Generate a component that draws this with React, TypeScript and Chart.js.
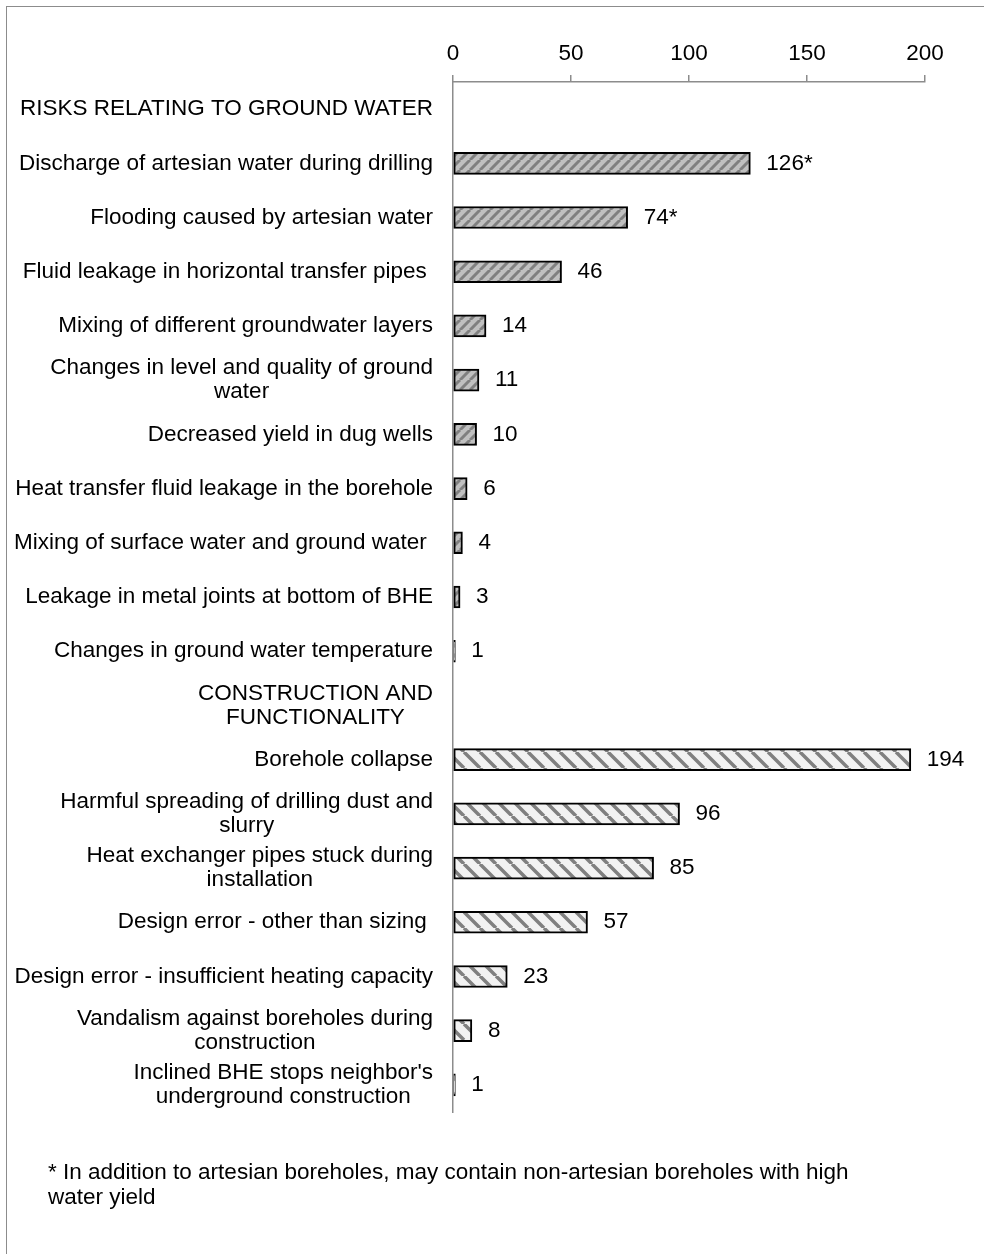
import React, { useEffect, useRef } from "react";
import { Chart, registerables } from "chart.js";
Chart.register(...registerables);

const categories: string[][] = [
  ["RISKS RELATING TO GROUND WATER"],
  ["Discharge of artesian water during drilling"],
  ["Flooding caused by artesian water"],
  ["Fluid leakage in horizontal transfer pipes "],
  ["Mixing of different groundwater layers"],
  ["Changes in level and quality of ground", "water"],
  ["Decreased yield in dug wells"],
  ["Heat transfer fluid leakage in the borehole"],
  ["Mixing of surface water and ground water "],
  ["Leakage in metal joints at bottom of BHE"],
  ["Changes in ground water temperature"],
  ["CONSTRUCTION AND", "FUNCTIONALITY"],
  ["Borehole collapse"],
  ["Harmful spreading of drilling dust and", "slurry"],
  ["Heat exchanger pipes stuck during", "installation"],
  ["Design error - other than sizing "],
  ["Design error - insufficient heating capacity"],
  ["Vandalism against boreholes during", "construction"],
  ["Inclined BHE stops neighbor's", "underground construction"],
];

const values: (number | null)[] = [
  null, 126, 74, 46, 14, 11, 10, 6, 4, 3, 1,
  null, 194, 96, 85, 57, 23, 8, 1,
];

const valueSuffixes: string[] = [
  "", "*", "*", "", "", "", "", "", "", "", "",
  "", "", "", "", "", "", "", "",
];

// 0 = ground water risks, 1 = construction and functionality
const groups: number[] = [0, 0, 0, 0, 0, 0, 0, 0, 0, 0, 0, 1, 1, 1, 1, 1, 1, 1, 1];

const xTicks: number[] = [0, 50, 100, 150, 200];

const footnoteLines: string[] = [
  "* In addition to artesian boreholes, may contain non-artesian boreholes with high",
  "water yield",
];

const FONT = "'Liberation Sans', Arial, Helvetica, sans-serif";
const FS = 22.5;

function makeStripe(bg: string, fg: string, size: number, width: number, up: boolean) {
  const c = document.createElement("canvas");
  c.width = size;
  c.height = size;
  const g = c.getContext("2d")!;
  g.fillStyle = bg;
  g.fillRect(0, 0, size, size);
  g.strokeStyle = fg;
  g.lineWidth = width;
  g.beginPath();
  for (const o of [-size, 0, size]) {
    if (up) {
      g.moveTo(o, size);
      g.lineTo(o + size, 0);
    } else {
      g.moveTo(o, 0);
      g.lineTo(o + size, size);
    }
  }
  g.stroke();
  return g.createPattern(c, "repeat")!;
}

const labelPlugin = {
  id: "customLabels",
  afterDraw(chart: any) {
    const ctx = chart.ctx as CanvasRenderingContext2D;
    const y = chart.scales.y;
    const x = chart.scales.x;
    ctx.save();
    ctx.font = `${FS}px ${FONT}`;
    ctx.fillStyle = "#000";
    ctx.textBaseline = "middle";
    const rightEdge = x.left - 20;
    const lineH = 24;
    (chart.data.labels as string[][]).forEach((lines, i) => {
      const cy = y.getPixelForValue(i);
      const maxW = Math.max(...lines.map((l) => ctx.measureText(l).width));
      const cx = rightEdge - maxW / 2;
      lines.forEach((l, k) => {
        const ly = cy + (k - (lines.length - 1) / 2) * lineH;
        const w = ctx.measureText(l).width;
        if (lines.length === 1) {
          ctx.textAlign = "right";
          ctx.fillText(l, rightEdge, ly);
        } else {
          ctx.textAlign = "left";
          ctx.fillText(l, cx - w / 2, ly);
        }
      });
    });
    // value labels
    ctx.textAlign = "left";
    const ds = chart.data.datasets[0];
    (ds.data as (number | null)[]).forEach((v, i) => {
      if (v == null) return;
      const px = x.getPixelForValue(v) + 16;
      const py = y.getPixelForValue(i);
      ctx.fillText(String(v) + valueSuffixes[i], px, py);
    });
    ctx.restore();
  },
};

export default function App() {
  const ref = useRef<HTMLCanvasElement>(null);
  useEffect(() => {
    document.body.style.margin = "0";
    const p0 = makeStripe("#c0c0c0", "#808080", 10, 3, true);
    const p1 = makeStripe("#f2f2f2", "#808080", 16, 3.5, false);
    const chart = new Chart(ref.current!, {
      type: "bar",
      data: {
        labels: categories as any,
        datasets: [
          {
            data: values as any,
            backgroundColor: groups.map((g) => (g === 0 ? p0 : p1)) as any,
            borderColor: "#000",
            borderWidth: 2,
            borderSkipped: false,
            barThickness: 22,
          },
        ],
      },
      options: {
        indexAxis: "y",
        animation: false,
        responsive: false,
        maintainAspectRatio: false,
        layout: { padding: { left: 0, right: 59, top: 0, bottom: 142 } },
        plugins: { legend: { display: false }, tooltip: { enabled: false } },
        scales: {
          x: {
            position: "top",
            min: 0,
            max: 200,
            afterBuildTicks: (s: any) => {
              s.ticks = xTicks.map((v) => ({ value: v }));
            },
            afterFit: (s: any) => {
              s.height = 82;
            },
            ticks: {
              font: { family: FONT, size: FS },
              color: "#000",
              padding: 8,
            },
            grid: {
              drawOnChartArea: false,
              drawTicks: true,
              tickLength: 7,
              color: "#8c8c8c",
              lineWidth: 1.5,
            },
            border: { display: true, color: "#8c8c8c", width: 1.5 },
          },
          y: {
            type: "category",
            ticks: { display: false },
            afterFit: (s: any) => {
              s.width = 453;
            },
            grid: { display: false, drawTicks: false },
            border: { display: true, color: "#8c8c8c", width: 1.5 },
          },
        },
      },
      plugins: [labelPlugin],
    });
    return () => chart.destroy();
  }, []);
  return (
    <div style={{ position: "relative", width: 984, height: 1254, overflow: "hidden", background: "#fff" }}>
      <div
        style={{
          position: "absolute",
          left: 6,
          top: 6,
          width: 1100,
          height: 1400,
          border: "1.5px solid #8c8c8c",
          boxSizing: "border-box",
        }}
      />
      <canvas ref={ref} width={984} height={1254} style={{ position: "absolute", left: 0, top: 0, width: 984, height: 1254 }} />
      <div
        style={{
          position: "absolute",
          left: 48,
          top: 1159,
          fontFamily: FONT,
          fontSize: FS,
          lineHeight: "25px",
          color: "#000",
          whiteSpace: "nowrap",
        }}
      >
        {footnoteLines.map((l, i) => (
          <div key={i}>{l}</div>
        ))}
      </div>
    </div>
  );
}
